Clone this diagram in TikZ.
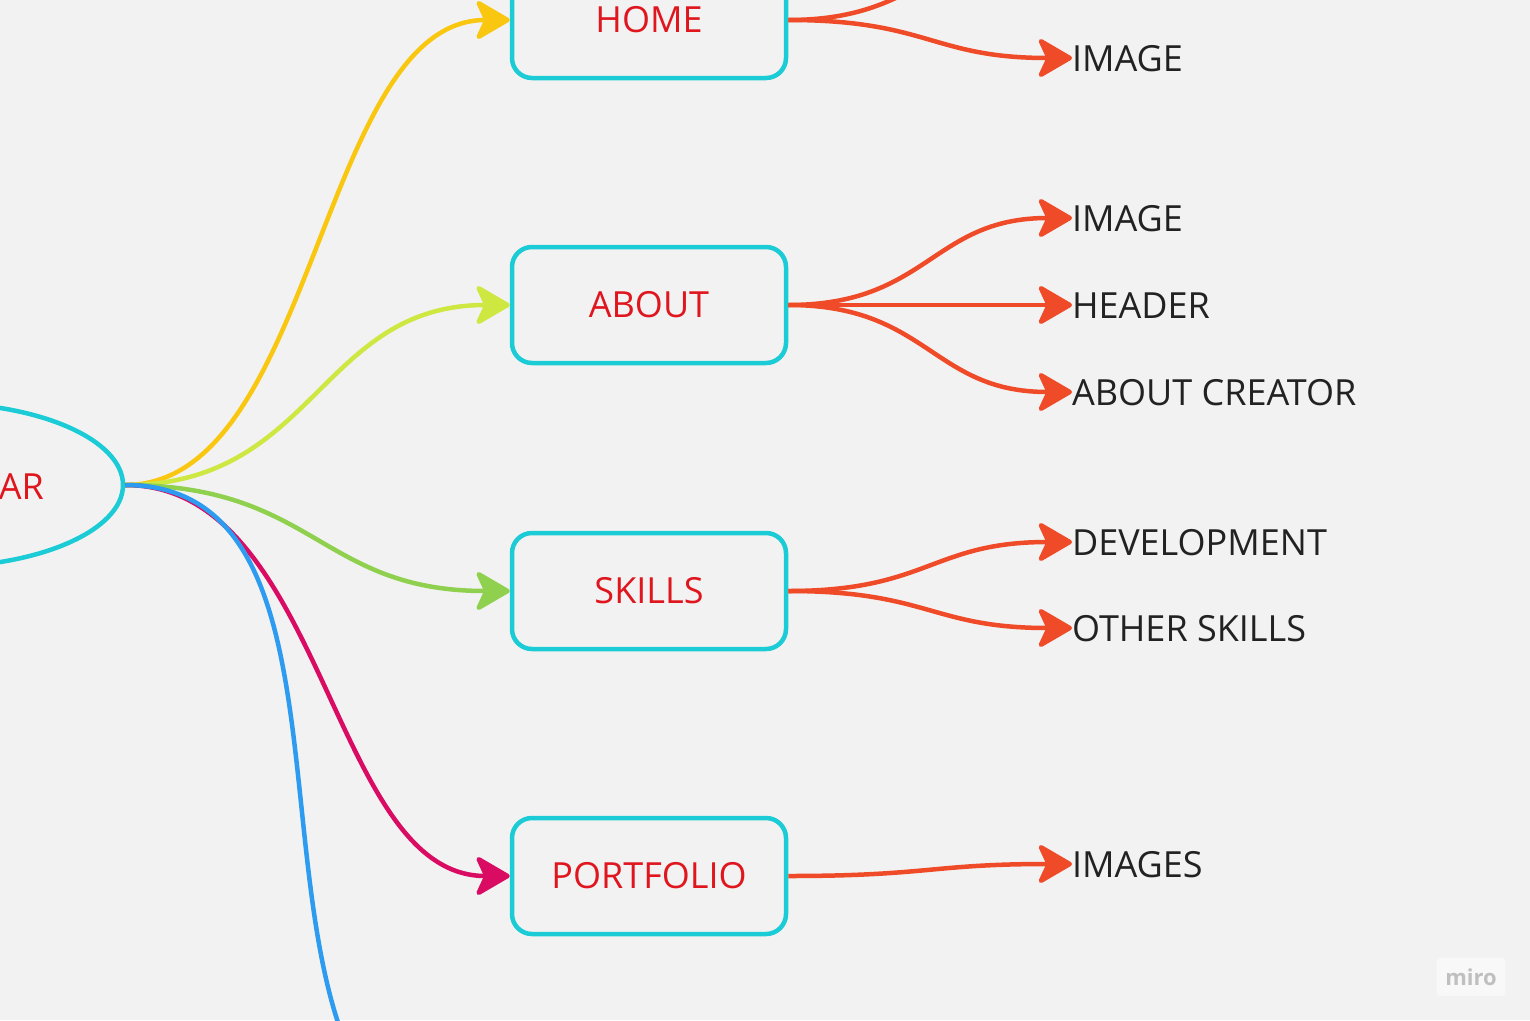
\documentclass[tikz,border=0pt]{standalone}
\usepackage{fontspec}
\setmainfont{Open Sans}
\usetikzlibrary{shapes.geometric}
\usetikzlibrary{arrows.meta}
\usepackage{xcolor}

\definecolor{bgGrey}{HTML}{F2F2F2}
\definecolor{boxCyan}{HTML}{1BCBD5}
\definecolor{topicRed}{HTML}{E0161F}
\definecolor{leafInk}{HTML}{222222}
\definecolor{edgeOrange}{HTML}{F04B28}
\definecolor{edgeYellow}{HTML}{FAC710}
\definecolor{edgeLime}{HTML}{CEE741}
\definecolor{edgeGreen}{HTML}{8FD14F}
\definecolor{edgeMagenta}{HTML}{D90B63}
\definecolor{edgeBlue}{HTML}{2D9BF0}

\begin{document}
\begin{tikzpicture}[x=1pt, y=-1pt]
        % ================= 样式定义 =================
        \tikzset{
            root_oval/.style={ellipse, draw=boxCyan, line width=4.5pt, minimum width=374pt, minimum height=164pt, inner sep=0pt},
            topic_box/.style={rectangle, rounded corners=20pt, draw=boxCyan, line width=4.5pt, minimum width=274pt, minimum height=116pt, inner sep=0pt, text=topicRed, font=\fontsize{36}{44}\selectfont},
            leaf_text/.style={anchor=west, inner sep=0pt, outer sep=0pt, text height=26pt, text depth=0pt, text=leafInk, font=\fontsize{36}{44}\selectfont},
            branch_edge/.style={line width=4.5pt, -{Stealth[length=38pt, width=44pt, inset=10pt, round]}},
            leaf_edge/.style={line width=4.5pt, edgeOrange, -{Stealth[length=38pt, width=44pt, inset=10pt, round]}}
        }

        \useasboundingbox (0,0) rectangle (1530,1020);
        \fill[bgGrey] (0,0) rectangle (1530,1020);
        \clip (0,0) rectangle (1530,1020);

        % ================= 根节点 (左侧椭圆) =================
        \node[root_oval] (navbar) at (-64,485) {};
        \node[anchor=east, inner sep=0pt, text height=26pt, text depth=0pt, text=topicRed, font=\fontsize{36}{44}\selectfont] (navbar_label) at (44,486) {AR};

        % ================= 主题框 =================
        \node[topic_box] (home) at (649,20) {HOME};
        \node[topic_box] (about) at (649,305) {ABOUT};
        \node[topic_box] (skills) at (649,591) {SKILLS};
        \node[topic_box] (portfolio) at (649,876) {PORTFOLIO};

        % 画布外的端点
        \coordinate (home_up) at (1072,-60);
        \coordinate (next_topic) at (508,1161);

        % ================= 叶子文字 =================
        \node[leaf_text] (home_image) at (1072,58) {IMAGE};
        \node[leaf_text] (about_image) at (1072,218) {IMAGE};
        \node[leaf_text] (about_header) at (1072,305) {HEADER};
        \node[leaf_text] (about_creator) at (1072,392) {ABOUT CREATOR};
        \node[leaf_text] (skills_dev) at (1072,542) {DEVELOPMENT};
        \node[leaf_text] (skills_other) at (1072,628) {OTHER SKILLS};
        \node[leaf_text] (portfolio_images) at (1072,864) {IMAGES};

        % ================= 根节点到主题框的彩色曲线 =================
        \draw[branch_edge, edgeYellow] (navbar.east) .. controls +(190,0) and +(-190,0) .. (home.west);
        \draw[branch_edge, edgeLime] (navbar.east) .. controls +(190,0) and +(-190,0) .. (about.west);
        \draw[branch_edge, edgeGreen] (navbar.east) .. controls +(190,0) and +(-190,0) .. (skills.west);
        \draw[branch_edge, edgeMagenta] (navbar.east) .. controls +(200,0) and +(-180,0) .. (portfolio.west);
        \draw[line width=4.5pt, edgeBlue] (navbar.east) .. controls +(293,0) and +(-329,0) .. (next_topic);

        % ================= 主题框到叶子的橙色曲线 =================
        \draw[line width=4.5pt, edgeOrange] (home.east) .. controls +(140,0) and +(-140,0) .. (home_up);
        \foreach \src/\dst in {home/home_image, about/about_image, about/about_header, about/about_creator,
                               skills/skills_dev, skills/skills_other, portfolio/portfolio_images} {
            \draw[leaf_edge] (\src.east) .. controls +(140,0) and +(-140,0) .. (\dst.west);
        }

        % ================= 右下角水印 =================
        \node[rectangle, rounded corners=4pt, draw=white!70!bgGrey, fill=white!45!bgGrey, minimum width=68pt, minimum height=38pt, inner sep=0pt,
              text=black!25, font=\fontsize{22}{24}\selectfont\bfseries] (miro_mark) at (1471,977) {miro};

    \end{tikzpicture}
\end{document}
